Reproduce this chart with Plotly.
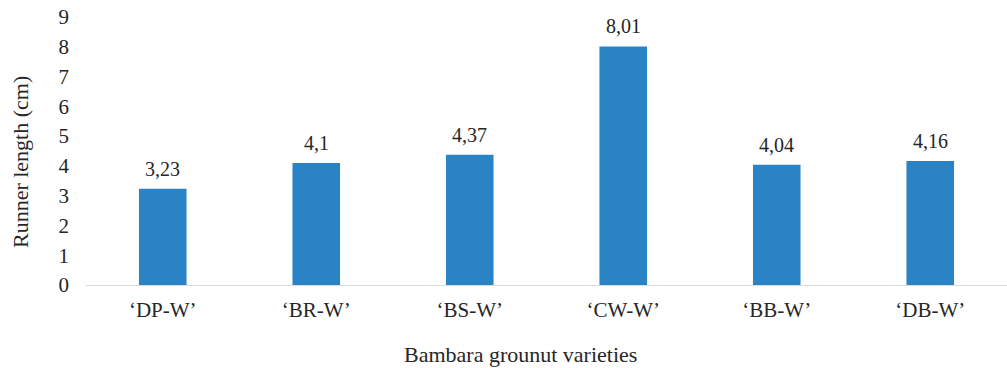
import plotly.graph_objects as go

categories = ["\u2018DP-W\u2019", "\u2018BR-W\u2019", "\u2018BS-W\u2019", "\u2018CW-W\u2019", "\u2018BB-W\u2019", "\u2018DB-W\u2019"]
values = [3.23, 4.1, 4.37, 8.01, 4.04, 4.16]
labels = ["3,23", "4,1", "4,37", "8,01", "4,04", "4,16"]
y_ticks = list(range(0, 10))
x_title = "Bambara grounut varieties"
y_title = "Runner length (cm)"

FONT = "Times New Roman"
TXT = "#262626"

fig = go.Figure()
fig.add_trace(go.Bar(x=categories, y=values, marker=dict(color="#2A83C4", line=dict(width=0)),
                     hoverinfo="skip"))
for c, v, t in zip(categories, values, labels):
    fig.add_annotation(x=c, y=v, text=t, showarrow=False, yanchor="bottom", yshift=7,
                       font=dict(family=FONT, size=20, color=TXT))

# axis titles placed as paper annotations (the reference titles are offset from the plot centre)
fig.add_annotation(text=x_title, xref="paper", yref="paper", x=0.4723, y=-0.261,
                   xanchor="center", yanchor="middle", showarrow=False,
                   font=dict(family=FONT, size=22, color=TXT))
fig.add_annotation(text=y_title, xref="paper", yref="paper", x=-0.0711, y=0.457, textangle=-90,
                   xanchor="center", yanchor="middle", showarrow=False,
                   font=dict(family=FONT, size=22, color=TXT))

fig.update_layout(
    width=1007, height=368,
    margin=dict(l=86, r=0, t=17, b=83, autoexpand=False),
    paper_bgcolor="white", plot_bgcolor="white",
    bargap=0.69,
    showlegend=False,
    font=dict(family=FONT, color=TXT),
)
fig.update_xaxes(showline=True, linecolor="#D9D9D9", linewidth=1, showgrid=False, automargin=False,
                 tickfont=dict(family=FONT, size=21, color=TXT), ticks="", ticklabelstandoff=6,
                 ticklabeloverflow="allow")
fig.update_yaxes(range=[0, 9], tickvals=y_ticks, showgrid=False, showline=False, zeroline=False, automargin=False,
                 tickfont=dict(family=FONT, size=21, color=TXT), ticks="", ticklabelstandoff=16,
                 ticklabeloverflow="allow")

# remove the page's default 8px body margin so the figure fills the window
fig.write_html("out.html", config={"displayModeBar": False},
               post_script="document.body.style.margin='0px';")
